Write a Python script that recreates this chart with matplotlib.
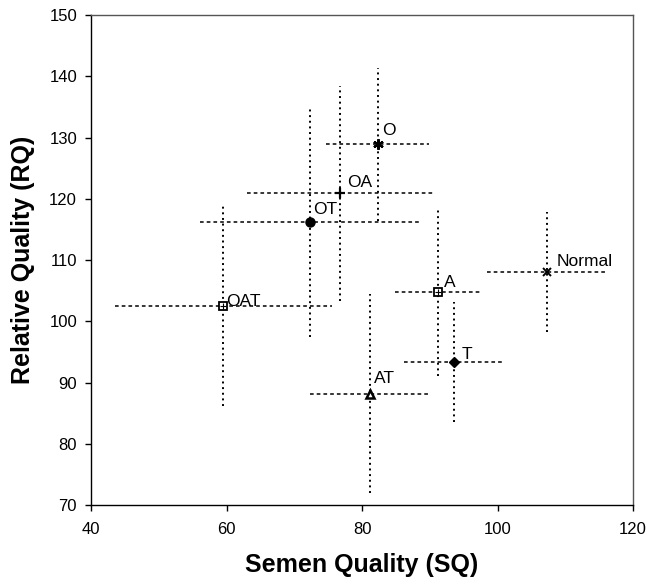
import matplotlib.pyplot as plt

# ── Data ──────────────────────────────────────────────────────────────────────
GROUPS = ['Normal', 'O', 'OA', 'OT', 'OAT', 'A', 'T', 'AT']
SQ     = [107.3, 82.3, 76.7, 72.3, 59.5, 91.2, 93.5, 81.1]
RQ     = [108.0, 128.9, 120.9, 116.3, 102.5, 104.8, 93.3, 88.2]
SQ_ERR = [8.8, 7.6, 13.7, 16.2, 16.0, 6.3, 7.3, 8.8]
RQ_ERR = [9.8, 12.5, 17.6, 18.8, 16.3, 13.7, 9.8, 16.3]

X_TICKS = [40, 60, 80, 100, 120]
Y_TICKS = [70, 80, 90, 100, 110, 120, 130, 140, 150]

# ── Style ─────────────────────────────────────────────────────────────────────
FONT = 'Liberation Sans'
MARKERS = {
    'Normal': dict(marker='x', ms=6, mfc='black', mew=1.4),
    'O':      dict(marker=(6, 2, 0), ms=7.5, mfc='black', mew=1.6),
    'OA':     dict(marker='+', ms=6.5, mfc='black', mew=1.6),
    'OT':     dict(marker='o', ms=6.5, mfc='black', mew=1),
    'OAT':    dict(marker='s', ms=6, mfc='white', mew=1.3),
    'A':      dict(marker='s', ms=6, mfc='white', mew=1.3),
    'T':      dict(marker='D', ms=5.5, mfc='black', mew=1),
    'AT':     dict(marker='^', ms=6, mfc='white', mew=1.8),
}
# label offsets in points
OFFSETS = {'Normal': (7, 8), 'O': (3, 10), 'OA': (5, 8), 'OT': (2, 9),
           'OAT': (2, 3), 'A': (4, 7), 'T': (6, 6), 'AT': (3, 11)}

fig = plt.figure(figsize=(6.5, 5.86), dpi=100)
ax = fig.add_axes([0.14, 0.138, 0.834, 0.836])

for name, x, y, xe, ye in zip(GROUPS, SQ, RQ, SQ_ERR, RQ_ERR):
    eb = ax.errorbar(x, y, xerr=xe, yerr=ye, fmt='none', ecolor='black',
                     elinewidth=1.2, capsize=0, zorder=2)
    hcol, vcol = eb[2]
    hcol.set_linestyle((0, (2.4, 2.0)))
    hcol.set_linewidth(1.1)
    vcol.set_linestyle((0, (1.0, 1.9)))
    vcol.set_linewidth(1.4)
    ax.plot(x, y, color='black', mec='black', ls='none', zorder=3, **MARKERS[name])
    if name in ('OAT', 'A'):
        ax.plot(x, y, marker='+', ms=4, mew=0.8, color='black', ls='none', zorder=4)
    ax.annotate(name, (x, y), xytext=OFFSETS[name], textcoords='offset points',
                ha='left', va='center', fontsize=12.5, family=FONT, zorder=5)

ax.set_xlim(40, 120)
ax.set_ylim(70, 150)
ax.set_xticks(X_TICKS)
ax.set_yticks(Y_TICKS)
ax.tick_params(direction='out', length=4, width=1, labelsize=12)
ax.tick_params(axis='x', pad=8)
ax.tick_params(axis='y', pad=6)
for lab in ax.get_xticklabels() + ax.get_yticklabels():
    lab.set_family(FONT)

for side, spine in ax.spines.items():
    spine.set_linewidth(1.0)
    spine.set_edgecolor('black' if side in ('left', 'bottom') else '#555555')

ax.set_xlabel('Semen Quality (SQ)', fontsize=18, fontweight='bold', family=FONT, labelpad=12)
ax.set_ylabel('Relative Quality (RQ)', fontsize=18, fontweight='bold', family=FONT, labelpad=10)

fig.savefig('out.png', dpi=100, facecolor='white')
